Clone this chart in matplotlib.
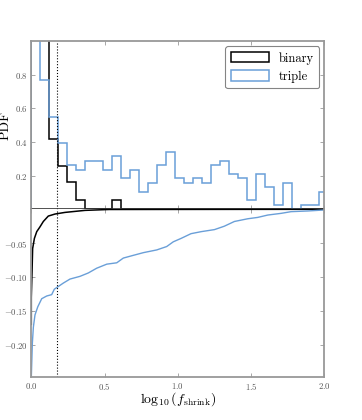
import numpy as np
import matplotlib
matplotlib.use("Agg")
import matplotlib.pyplot as plt

plt.rcParams['font.family'] = 'serif'
plt.rcParams['font.serif'] = ['cmr10']
plt.rcParams['mathtext.fontset'] = 'cm'
plt.rcParams['axes.formatter.use_mathtext'] = True

""" DATA """
bin_width = 0.0614
n_bins = 33
bin_edges = np.arange(n_bins + 1) * bin_width

# PDF per bin (first bins run off the top of the panel)
pdf_binary = [3.2, 1.6, 0.42, 0.26, 0.16, 0.053, 0.0, 0.0, 0.0, 0.053,
              0.0, 0.0, 0.0, 0.0, 0.0, 0.0, 0.0, 0.0, 0.0, 0.0,
              0.0, 0.0, 0.0, 0.0, 0.0, 0.0, 0.0, 0.0, 0.0, 0.0,
              0.0, 0.0, 0.0]
pdf_triple = [1.3, 0.77, 0.55, 0.396, 0.262, 0.236, 0.289, 0.289, 0.236, 0.315,
              0.184, 0.236, 0.105, 0.158, 0.262, 0.342, 0.184, 0.158, 0.184, 0.158,
              0.262, 0.289, 0.21, 0.184, 0.053, 0.21, 0.131, 0.026, 0.158, 0.0,
              0.026, 0.026, 0.105]

# lower panel curves
x_binary = [0.0, 0.0, 0.005, 0.009, 0.021, 0.037, 0.059, 0.082, 0.116, 0.162,
            0.23, 0.367, 0.53, 2.0]
y_binary = [-0.17, -0.13, -0.092, -0.058, -0.043, -0.033, -0.026, -0.018, -0.010, -0.007,
            -0.0046, -0.0016, -0.0003, 0.0]
x_triple = [0.0, 0.007, 0.014, 0.025, 0.044, 0.071, 0.105, 0.139, 0.157, 0.184,
            0.218, 0.264, 0.332, 0.389, 0.446, 0.515, 0.583, 0.628, 0.696, 0.765,
            0.856, 0.924, 0.969, 1.022, 1.09, 1.16, 1.25, 1.317, 1.386, 1.477,
            1.545, 1.614, 1.705, 1.773, 1.887, 2.0]
y_triple = [-0.248, -0.198, -0.174, -0.156, -0.144, -0.132, -0.128, -0.126, -0.118, -0.114,
            -0.109, -0.103, -0.099, -0.094, -0.087, -0.081, -0.079, -0.072, -0.068, -0.064,
            -0.060, -0.055, -0.048, -0.043, -0.036, -0.033, -0.030, -0.025, -0.018, -0.014,
            -0.012, -0.0085, -0.006, -0.0035, -0.0025, -0.001]

x_cut = 0.175

blue = '#6a9fd8'
grey = '#999999'

fig = plt.figure(figsize=(3.62, 4.2), dpi=100)
ax_top = fig.add_axes([0.0865, 0.5017, 0.8095, 0.4])
ax_bot = fig.add_axes([0.0865, 0.1017, 0.8095, 0.4], sharex=ax_top)

centers = bin_edges[:-1] + bin_width / 2
ax_top.hist(centers, bins=bin_edges, weights=pdf_binary, histtype='step',
            color='k', lw=1.1, label='binary')
ax_top.hist(centers, bins=bin_edges, weights=pdf_triple, histtype='step',
            color=blue, lw=1.1, label='triple')
ax_top.set_ylim(0, 1.0)
ax_top.set_yticks([0.2, 0.4, 0.6, 0.8])
ax_top.set_ylabel('PDF', fontsize=10)
ax_top.yaxis.set_label_coords(-0.068, 0.5)
ax_top.axvline(x_cut, color='k', ls=':', lw=0.8)
ax_top.axhline(0, color='#333333', lw=1.2, zorder=5)
leg = ax_top.legend(loc='upper right', fontsize=9, fancybox=True,
                    handlelength=3.0, handleheight=0.9, borderpad=0.45,
                    labelspacing=0.45, handletextpad=0.8, borderaxespad=0.4)
leg.get_frame().set_edgecolor('#666666')
leg.get_frame().set_linewidth(0.8)
plt.setp(ax_top.get_xticklabels(), visible=False)

ax_bot.plot(x_binary, y_binary, color='k', lw=1.1)
ax_bot.plot(x_triple, y_triple, color=blue, lw=1.0)
ax_bot.axvline(x_cut, color='k', ls=':', lw=0.8)
ax_bot.set_ylim(-0.248, 0)
ax_bot.set_yticks([-0.20, -0.15, -0.10, -0.05])
ax_bot.set_yticklabels(['$-0.20$', '$-0.15$', '$-0.10$', '$-0.05$'])
ax_bot.set_xlim(0, 2.0)
ax_bot.set_xticks([0.0, 0.5, 1.0, 1.5, 2.0])
ax_bot.set_xlabel(r'$\log_{10}(f_{\rm shrink})$', fontsize=10, labelpad=-1)

for ax in (ax_top, ax_bot):
    for s in ax.spines.values():
        s.set_color(grey)
        s.set_linewidth(1.3)
    ax.tick_params(direction='in', colors=grey, labelcolor='#555555',
                   labelsize=6.3, top=True, right=True, length=3, width=0.6,
                   pad=2.5)
ax_bot.spines['top'].set_visible(False)
ax_top.spines['bottom'].set_visible(False)

fig.savefig('out.png', dpi=100)
